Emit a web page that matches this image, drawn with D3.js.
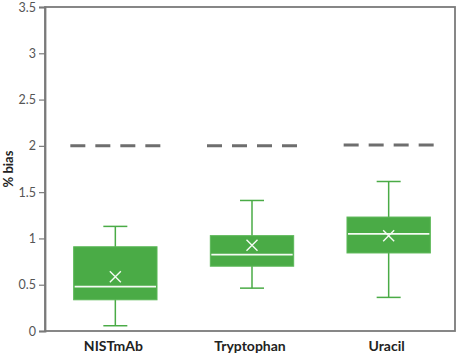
<!DOCTYPE html>
<html><head><meta charset="utf-8">
<script src="https://cdn.jsdelivr.net/npm/d3@7"></script>
<style>
body{margin:0;background:#fff;}
svg{display:block;}
</style></head>
<body>
<script>
const categories = ["NISTmAb", "Tryptophan", "Uracil"];
const whiskerLow = [0.057, 0.463, 0.363];
const q1 = [0.337, 0.70, 0.843];
const median = [0.48, 0.825, 1.05];
const q3 = [0.91, 1.03, 1.231];
const whiskerHigh = [1.13, 1.41, 1.615];
const mean = [0.585, 0.926, 1.03];
const limit = [2.0, 2.0, 2.01];
const yTicks = [0, 0.5, 1, 1.5, 2, 2.5, 3, 3.5];
const yTickLabels = ["0", "0.5", "1", "1.5", "2", "2.5", "3", "3.5"];

const W = 460, H = 357;
const m = {left: 45, right: 5, top: 7, bottom: 26};
const green = "#4aab46";
const frameCol = "#7a7a7a";

const svg = d3.select("body").append("svg").attr("width", W).attr("height", H);
const x = d3.scaleBand().domain(categories).range([m.left, W - m.right]).paddingInner(0).paddingOuter(0);
const y = d3.scaleLinear().domain([0, 3.5]).range([H - m.bottom, m.top]);

// frame
svg.append("rect").attr("x", m.left).attr("y", m.top)
  .attr("width", W - m.right - m.left).attr("height", H - m.bottom - m.top)
  .attr("fill", "none").attr("stroke", frameCol).attr("stroke-width", 1.8);

// y axis
const yAxis = svg.append("g").attr("transform", `translate(${m.left},0)`)
  .call(d3.axisLeft(y).tickValues(yTicks).tickSize(6).tickPadding(3)
    .tickFormat((d, i) => yTickLabels[i]));
yAxis.select(".domain").attr("stroke", frameCol).attr("stroke-width", 1.8);
yAxis.selectAll(".tick line").attr("stroke", frameCol).attr("stroke-width", 1.2);
yAxis.selectAll(".tick text").attr("fill", "#555").attr("font-size", 12.5)
  .attr("font-family", "Lato, 'Open Sans', sans-serif");

// x axis labels
const xAxis = svg.append("g").attr("transform", `translate(0,${H - m.bottom})`)
  .call(d3.axisBottom(x).tickSize(0).tickPadding(10));
xAxis.select(".domain").remove();
xAxis.selectAll(".tick text").attr("fill", "#222").attr("font-size", 14)
  .attr("font-weight", "bold").attr("font-family", "Lato, 'Open Sans', sans-serif");

// y label
svg.append("text").attr("transform", `translate(13,${y(1.75)}) rotate(-90)`)
  .attr("text-anchor", "middle").attr("font-size", 13).attr("font-weight", "bold")
  .attr("fill", "#222").attr("font-family", "Lato, 'Open Sans', sans-serif").text("% bias");

const bw = x.bandwidth();
const boxW = bw * 0.61;
const capW = 24;
const dashW = 90;

categories.forEach((c, i) => {
  const cx = x(c) + bw / 2 + 2;
  const g = svg.append("g");
  // limit dashed line
  g.append("line").attr("x1", cx - dashW / 2).attr("x2", cx + dashW / 2)
    .attr("y1", y(limit[i])).attr("y2", y(limit[i]))
    .attr("stroke", "#6e6e6e").attr("stroke-width", 3).attr("stroke-dasharray", "15,10");
  // whiskers
  g.append("line").attr("x1", cx).attr("x2", cx).attr("y1", y(whiskerHigh[i])).attr("y2", y(whiskerLow[i]))
    .attr("stroke", green).attr("stroke-width", 1.5);
  [whiskerHigh[i], whiskerLow[i]].forEach(v => {
    g.append("line").attr("x1", cx - capW / 2).attr("x2", cx + capW / 2)
      .attr("y1", y(v)).attr("y2", y(v)).attr("stroke", green).attr("stroke-width", 1.5);
  });
  // box
  g.append("rect").attr("x", cx - boxW / 2).attr("width", boxW)
    .attr("y", y(q3[i])).attr("height", y(q1[i]) - y(q3[i]))
    .attr("fill", green).attr("stroke", "#5cb858").attr("stroke-width", 1);
  // median
  g.append("line").attr("x1", cx - boxW / 2 + 1).attr("x2", cx + boxW / 2 - 1)
    .attr("y1", y(median[i])).attr("y2", y(median[i])).attr("stroke", "#f4fbf3").attr("stroke-width", 1.8);
  // mean X
  const s = 5.5, my = y(mean[i]);
  g.append("path").attr("d", `M${cx - s},${my - s}L${cx + s},${my + s}M${cx - s},${my + s}L${cx + s},${my - s}`)
    .attr("stroke", "#f4fbf3").attr("stroke-width", 1.4).attr("fill", "none");
});
</script>
</body></html>
